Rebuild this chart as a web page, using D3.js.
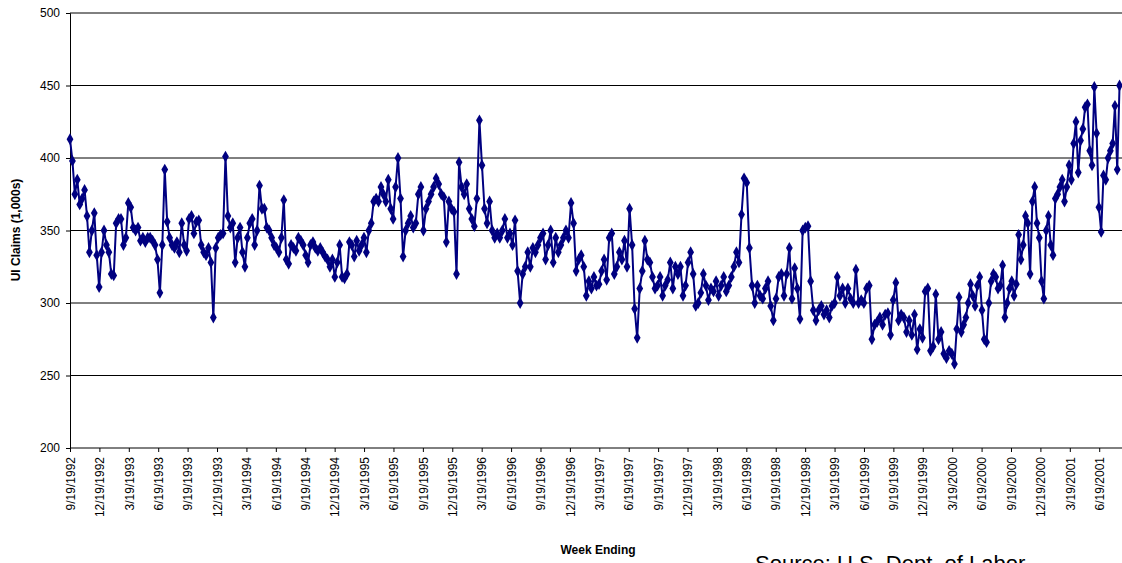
<!DOCTYPE html>
<html><head><meta charset="utf-8">
<script src="https://cdn.jsdelivr.net/npm/d3@7"></script>
<style>body{margin:0;background:#fff}svg{display:block;font-family:Arial,"Liberation Sans",sans-serif}</style>
</head><body><svg id="c" width="1122" height="563"></svg>
<script>
const claims = [413,398,375,385,368,372,378,360,335,350,362,333,311,335,350,340,335,320,319,355,358,358,340,345,369,366,352,350,352,343,345,342,345,345,343,340,330,307,340,392,356,345,340,338,342,335,355,340,336,358,360,348,356,357,340,335,333,338,328,290,338,345,347,348,401,360,352,355,328,345,352,335,325,345,355,358,340,350,381,365,365,352,350,345,340,338,335,345,371,330,327,340,338,336,345,343,340,333,328,340,342,338,336,338,335,332,330,325,330,318,328,340,318,317,320,342,340,332,343,336,340,345,335,350,355,370,372,370,380,375,370,385,365,358,380,400,372,332,350,355,360,352,355,375,380,350,365,370,375,380,386,382,375,373,342,370,365,363,320,397,380,375,382,365,358,353,372,426,395,365,355,370,350,345,348,345,350,358,345,348,340,357,322,300,320,325,335,325,338,335,340,345,348,330,340,350,328,345,335,340,345,350,345,369,355,322,330,333,325,305,315,310,318,312,313,322,330,316,345,348,320,325,335,330,343,325,365,340,296,276,310,322,343,330,328,318,310,312,318,305,312,316,328,310,325,320,325,305,312,328,335,320,298,300,307,320,312,302,310,308,315,305,312,318,308,312,318,325,335,328,361,386,383,338,312,300,312,305,303,310,315,298,288,303,318,320,305,320,338,303,324,310,289,350,352,353,315,295,288,295,298,292,295,290,298,300,318,305,310,300,310,303,300,323,300,302,300,310,312,275,285,287,290,285,292,293,278,302,314,288,292,290,280,288,278,292,268,282,276,308,310,267,270,306,275,280,265,262,267,265,258,282,304,280,285,290,300,313,305,298,312,318,295,275,273,300,315,320,318,310,312,326,290,300,310,315,305,313,347,330,340,360,355,320,370,380,355,345,315,303,350,360,340,333,372,375,380,385,370,380,395,385,410,425,390,412,420,435,437,405,395,449,417,366,349,388,385,400,405,410,436,392,450];
const pointIndexAnchors = [0,135,167,271,350,423];
const weekAnchors = [0,145,181,298,391,465];
const tickLabels = [];
(function(){const m=["9","12","3","6"];let y=1992;for(let k=0;k<37;k++){const mm=m[k%4];if(mm==="3")y++;tickLabels.push(mm+"/19/"+y);}})();

const svg=d3.select("#c");
const L=70,T=13,B=448,R=1122+20;
const wk=d3.scaleLinear().domain([0,468]).range([L,L+468*2.262]);
const idxToWeek=d3.scaleLinear().domain(pointIndexAnchors).range(weekAnchors);
const y=d3.scaleLinear().domain([200,500]).range([B,T]);

svg.append("g").selectAll("line").data(d3.range(250,501,50)).join("line")
 .attr("x1",L).attr("x2",R).attr("y1",d=>y(d)).attr("y2",d=>y(d)).attr("stroke","#000").attr("stroke-width",1);
svg.append("line").attr("x1",L).attr("x2",R).attr("y1",B).attr("y2",B).attr("stroke","#000");
const ya=svg.append("g").attr("transform",`translate(${L},0)`).call(d3.axisLeft(y).tickValues(d3.range(200,501,50)).tickSize(4).tickPadding(6));
ya.select(".domain").attr("stroke","#000");
ya.selectAll("text").attr("font-size",12).attr("fill","#000").attr("font-family","Arial,Liberation Sans");
const xa=svg.append("g").attr("transform",`translate(0,${B})`).call(d3.axisBottom(wk).tickValues(d3.range(0,37).map(k=>k*13)).tickFormat((d,i)=>tickLabels[i]).tickSize(4));
xa.select(".domain").remove();
xa.selectAll("text").attr("font-size",12).attr("fill","#000").attr("font-family","Arial,Liberation Sans")
 .attr("transform","rotate(-90)").attr("text-anchor","end").attr("x",-9).attr("y",0).attr("dy","0.35em");

const px=(d,i)=>wk(idxToWeek(i));
svg.append("path").datum(claims).attr("fill","none").attr("stroke","#000080").attr("stroke-width",2)
 .attr("d",d3.line().x(px).y(d=>y(d)));
svg.append("g").selectAll("path").data(claims).join("path")
 .attr("d",d3.symbol(d3.symbolDiamond,40)).attr("fill","#000080")
 .attr("transform",(d,i)=>`translate(${px(d,i)},${y(d)})`);

svg.append("text").attr("transform","translate(20,230) rotate(-90)").attr("text-anchor","middle")
 .attr("font-size",12).attr("font-weight","bold").text("UI Claims (1,000s)");
svg.append("text").attr("x",598).attr("y",554).attr("text-anchor","middle").attr("font-size",12).attr("font-weight","bold").text("Week Ending");
svg.append("text").attr("x",755).attr("y",571).attr("font-size",22).text("Source: U.S. Dept. of Labor");
</script></body></html>
